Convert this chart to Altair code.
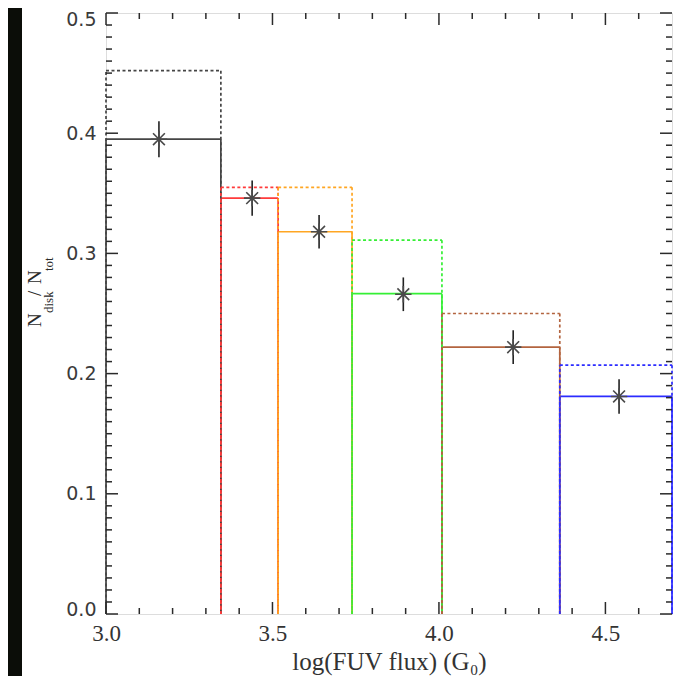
import altair as alt
import pandas as pd

# ---- data ----
EDGES = [3.0, 3.345, 3.517, 3.739, 4.009, 4.363, 4.7]
SOLID = [0.395, 0.346, 0.318, 0.2665, 0.222, 0.181]
DASHED = [0.452, 0.355, 0.355, 0.311, 0.250, 0.207]
COLORS = ["#454545", "#ff3a3a", "#ffa623", "#35ef35", "#b3643f", "#2c2cff"]
PT_X = [3.159, 3.439, 3.640, 3.893, 4.223, 4.541]
PT_Y = [0.395, 0.346, 0.318, 0.266, 0.222, 0.181]
PT_ERR = [0.015, 0.0146, 0.014, 0.014, 0.014, 0.0143]
X_LABELS = [3.0, 3.5, 4.0, 4.5]
Y_LABELS = [0.0, 0.1, 0.2, 0.3, 0.4, 0.5]
X_MINOR = [3.1, 3.2, 3.3, 3.4, 3.6, 3.7, 3.8, 3.9, 4.1, 4.2, 4.3, 4.4, 4.6]
Y_MINOR = [round(i / 100, 2) for i in range(1, 50) if i % 10]

W, H = 566, 601
xs = alt.Scale(domain=[3.0, 4.7], nice=False, zero=False)
ys = alt.Scale(domain=[0.0, 0.5], nice=False, zero=False)
INK = "#2a2a2a"


def segments(levels):
    rows = []
    for i, lv in enumerate(levels):
        a, b = EDGES[i], EDGES[i + 1]
        c = COLORS[i]
        rows.append(dict(x=a, x2=a, y=0.0, y2=lv, color=c))
        rows.append(dict(x=a, x2=b, y=lv, y2=lv, color=c))
        rows.append(dict(x=b, x2=b, y=lv, y2=0.0, color=c))
    return pd.DataFrame(rows)


XAXIS = alt.Axis(values=X_LABELS, format=".1f", ticks=False, tickSize=0, domain=False,
                 grid=False, labelPadding=8, labelFont="Liberation Serif", labelFontSize=23,
                 labelColor="#333333", labelFlush=False, labelOverlap=False,
                 title="log(FUV flux) (G₀)", titleFont="Liberation Serif", titleFontSize=25,
                 titleFontWeight="normal", titleColor="#333333", titlePadding=4)
YAXIS = alt.Axis(values=Y_LABELS, format=".1f", ticks=False, tickSize=0, domain=False,
                 grid=False, labelPadding=10, labelFont="DejaVu Sans", labelFontSize=19,
                 labelColor="#3a3a3a", labelFlush=False, labelOverlap=False, title="",
                 labelOffset={"condition": [{"test": "datum.value <= 0", "value": -5},
                                            {"test": "datum.value >= 0.5", "value": 6}],
                              "value": 0})


def X(f):
    return alt.X(f, type="quantitative", scale=xs, axis=XAXIS, title="log(FUV flux) (G₀)")


def Y(f):
    return alt.Y(f, type="quantitative", scale=ys, axis=YAXIS, title="")


one = pd.DataFrame({"a": [0]})

strip = alt.Chart(one).mark_rect(color="#0b0d08").encode(
    x=alt.value(-98), x2=alt.value(-84), y=alt.value(-5), y2=alt.value(H + 63))

solid = alt.Chart(segments(SOLID)).mark_rule(strokeWidth=1.7).encode(
    x=X("x"), x2="x2:Q", y=Y("y"), y2="y2:Q",
    color=alt.Color("color:N", scale=None))

dashed = alt.Chart(segments(DASHED)).mark_rule(strokeWidth=1.7, strokeDash=[3, 2.5]).encode(
    x=X("x"), x2="x2:Q", y=Y("y"), y2="y2:Q",
    color=alt.Color("color:N", scale=None))

pts = pd.DataFrame({"x": PT_X, "y": PT_Y, "err": PT_ERR})
pts["lo"] = pts["y"] - pts["err"]
pts["hi"] = pts["y"] + pts["err"]

err = alt.Chart(pts).mark_rule(color="#222222", strokeWidth=1.6).encode(
    x=X("x"), y=Y("lo"), y2="hi:Q")

STAR = "M-1,0L1,0M0,-1L0,1M-0.72,-0.72L0.72,0.72M-0.72,0.72L0.72,-0.72"
stars = alt.Chart(pts).mark_point(shape=STAR, size=270, filled=False, stroke="#4a4a4a",
                                  strokeWidth=1.6, opacity=1).encode(
    x=X("x"), y=Y("y"))

ymaj = pd.DataFrame({"v": Y_LABELS})
ymin = pd.DataFrame({"v": Y_MINOR})
xmaj = pd.DataFrame({"v": X_LABELS})
xmin = pd.DataFrame({"v": X_MINOR})


def yticks(df, ln):
    left = alt.Chart(df).mark_rule(color=INK, strokeWidth=1.5).encode(
        y=Y("v"), x=alt.value(0), x2=alt.value(ln))
    right = alt.Chart(df).mark_rule(color=INK, strokeWidth=1.5).encode(
        y=Y("v"), x=alt.value(W), x2=alt.value(W - ln))
    return [left, right]


def xticks(df, ln):
    bottom = alt.Chart(df).mark_rule(color=INK, strokeWidth=1.5).encode(
        x=X("v"), y=alt.value(H), y2=alt.value(H - ln))
    top = alt.Chart(df).mark_rule(color=INK, strokeWidth=1.5).encode(
        x=X("v"), y=alt.value(0), y2=alt.value(ln))
    return [bottom, top]


ticks = yticks(ymaj, 12) + yticks(ymin, 6) + xticks(xmaj, 12) + xticks(xmin, 6)


def txt(s, size, x, y):
    return alt.Chart(one).mark_text(text=s, angle=270, align="left", baseline="alphabetic",
                                    font="Liberation Serif", fontSize=size, color=INK).encode(
        x=alt.value(x), y=alt.value(y))


ytitle = [
    txt("N", 19, -65, 314),
    txt("disk", 13, -53, 300),
    txt("/", 19, -65, 283),
    txt("N", 19, -65, 271),
    txt("tot", 13, -53, 258),
]

chart = alt.layer(strip, solid, dashed, *ticks, err, stars, *ytitle).properties(
    width=W, height=H,
    padding={"left": 98, "top": 5, "right": 19, "bottom": 62},
    autosize=alt.AutoSizeParams(type="none"),
).configure_view(stroke="#222222", strokeWidth=1.6).configure(background="white")

chart.save("out.html", embed_options={"renderer": "svg", "actions": False})
